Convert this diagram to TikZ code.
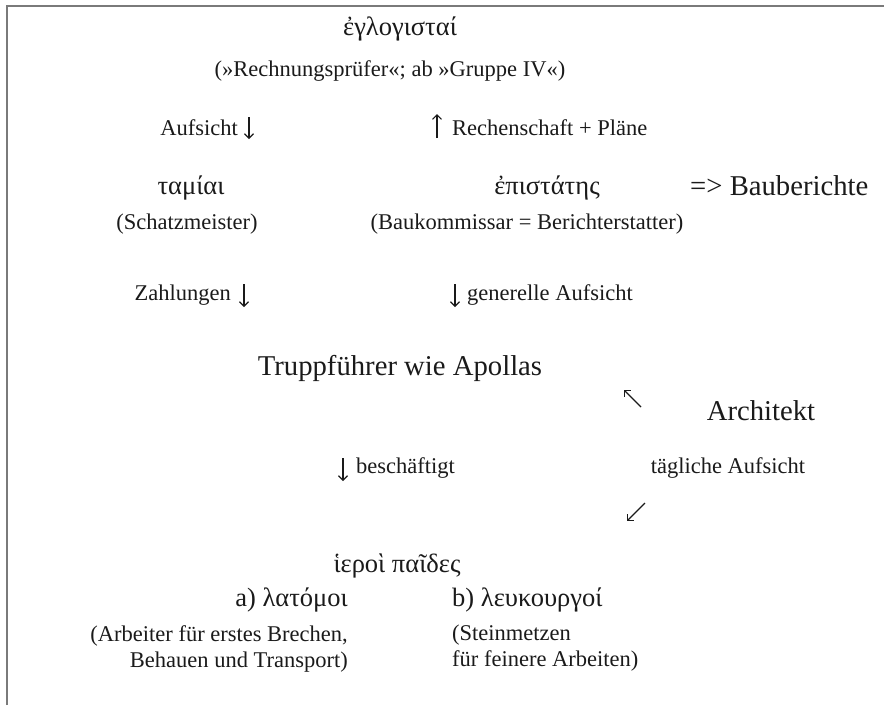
\documentclass[tikz,border=0pt]{standalone}
\usepackage{fontspec}
\setmainfont{Liberation Serif}
\usetikzlibrary{arrows.meta}
\definecolor{ink}{HTML}{1A1A1A}
\definecolor{framegray}{HTML}{7A7A7A}
\begin{document}
\begin{tikzpicture}[x=1pt,y=-1pt,
  small/.style={font=\fontsize{22.5}{26}\selectfont, text=ink, inner sep=0pt},
  greek/.style={font=\fontsize{26.5}{31}\selectfont, text=ink, inner sep=0pt},
  big/.style={font=\fontsize{28.7}{34}\selectfont, text=ink, inner sep=0pt},
  arr/.style={draw=ink, line width=1.1pt, -{Straight Barb[length=4.5pt,width=9pt]}},
  frame/.style={draw=framegray, line width=1.6pt}]
\useasboundingbox (0,0) rectangle (884,705);
\draw[frame] (7,705) -- (7,6) -- (884,6);

\node[greek] (eglog) at (400,29) {ἐγλογισταί};
\node[small] (rechn) at (390,71) {(»Rechnungsprüfer«; ab »Gruppe IV«)};

\node[small, anchor=east] (aufs1) at (238,128) {Aufsicht};
\coordinate (a1s) at (249,117);
\coordinate (a1e) at (249,139);
\draw[arr] (a1s) -- (a1e);

\coordinate (a2s) at (437,138);
\coordinate (a2e) at (437,114);
\draw[arr] (a2s) -- (a2e);
\node[small, anchor=west] (rech) at (452,128) {Rechenschaft + Pläne};

\node[greek] (tamiai) at (191,188) {ταμίαι};
\node[greek] (epist) at (547,188) {ἐπιστάτης};
\node[big, anchor=west] (baub) at (690,186) {=> Bauberichte};
\node[small] (schatz) at (187,224) {(Schatzmeister)};
\node[small] (bauk) at (527,224) {(Baukommissar = Berichterstatter)};

\node[small, anchor=east] (zahl) at (231,295) {Zahlungen};
\coordinate (a3s) at (244,284);
\coordinate (a3e) at (244,307);
\draw[arr] (a3s) -- (a3e);
\coordinate (a4s) at (455,284);
\coordinate (a4e) at (455,307);
\draw[arr] (a4s) -- (a4e);
\node[small, anchor=west] (gen) at (467,295) {generelle Aufsicht};

\node[big] (trupp) at (400,368) {Truppführer wie Apollas};
\coordinate (a5s) at (641,407);
\coordinate (a5e) at (624,390);
\draw[arr] (a5s) -- (a5e);
\node[big] (arch) at (761,411) {Architekt};

\coordinate (a6s) at (343,458);
\coordinate (a6e) at (343,481);
\draw[arr] (a6s) -- (a6e);
\node[small, anchor=west] (besch) at (356,468) {beschäftigt};
\node[small] (taegl) at (728,468) {tägliche Aufsicht};
\coordinate (a7s) at (645,503);
\coordinate (a7e) at (627,521);
\draw[arr] (a7s) -- (a7e);

\node[greek] (hieroi) at (397,566) {ἱεροὶ παῖδες};
\node[greek, anchor=east] (lat) at (348,600) {a) λατόμοι};
\node[greek, anchor=west] (leuk) at (452,600) {b) λευκουργοί};
\node[small, anchor=north east, align=right] (arb) at (348,625) {(Arbeiter für erstes Brechen,\\Behauen und Transport)};
\node[small, anchor=north west, align=left] (stein) at (452,625) {(Steinmetzen\\für feinere Arbeiten)};
\end{tikzpicture}
\end{document}
